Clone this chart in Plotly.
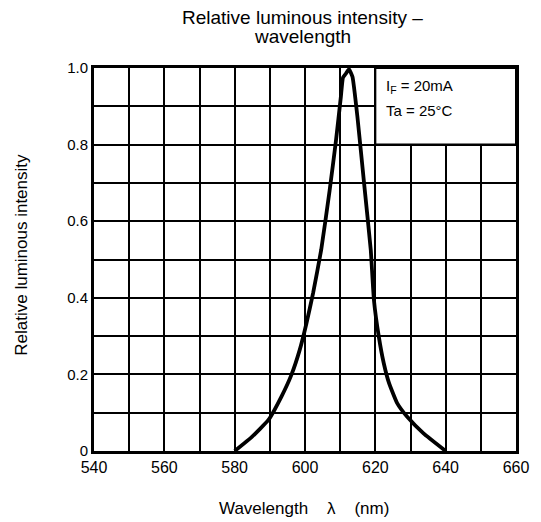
import plotly.graph_objects as go

wavelength = [580.0, 584.9, 589.6, 593.3, 596.1, 598.5, 600.4, 602.3, 604.6, 607.0, 608.8, 610.2,
              610.8, 611.6, 612.5, 613.5, 614.9, 616.8, 618.7, 619.6, 621.0, 622.4, 623.9, 626.2,
              629.0, 633.7, 640.0]
intensity = [0.0, 0.037, 0.081, 0.142, 0.198, 0.264, 0.333, 0.412, 0.525, 0.68, 0.81, 0.925,
             0.975, 0.985, 0.997, 0.977, 0.873, 0.699, 0.525, 0.394, 0.298, 0.229, 0.177, 0.125,
             0.090, 0.046, 0.0]

x_ticks = [540, 560, 580, 600, 620, 640, 660]
y_ticks = [0, 0.2, 0.4, 0.6, 0.8, 1.0]
y_tick_text = ["0", "0.2", "0.4", "0.6", "0.8", "1.0"]

font = "Liberation Sans, Arial, sans-serif"

fig = go.Figure()
fig.add_trace(go.Scatter(x=wavelength, y=intensity, mode="lines",
                         line=dict(color="black", width=3.8, shape="spline", smoothing=0.4),
                         showlegend=False, hoverinfo="skip"))

fig.add_shape(type="rect", xref="x", yref="y", x0=620, x1=660, y0=0.8, y1=1.0,
              fillcolor="white", line=dict(color="black", width=2), layer="above")

fig.add_annotation(x=622.4, y=0.953, xref="x", yref="y", text="I<sub>F</sub> = 20mA",
                   showarrow=False, xanchor="left", yanchor="middle",
                   font=dict(family=font, size=15, color="black"))
fig.add_annotation(x=622.4, y=0.888, xref="x", yref="y", text="Ta = 25°C",
                   showarrow=False, xanchor="left", yanchor="middle",
                   font=dict(family=font, size=15, color="black"))

# title (two lines, tight spacing)
fig.add_annotation(x=0.495, y=1.132, xref="paper", yref="paper", text="Relative luminous intensity –",
                   showarrow=False, xanchor="center", yanchor="middle",
                   font=dict(family=font, size=19, color="black"))
fig.add_annotation(x=0.495, y=1.083, xref="paper", yref="paper", text="wavelength",
                   showarrow=False, xanchor="center", yanchor="middle",
                   font=dict(family=font, size=19, color="black"))
# axis titles
fig.add_annotation(x=0.498, y=-0.151, xref="paper", yref="paper", text="Wavelength    λ    (nm)",
                   showarrow=False, xanchor="center", yanchor="middle",
                   font=dict(family=font, size=17, color="black"))
fig.add_annotation(x=-0.171, y=0.512, xref="paper", yref="paper", text="Relative luminous intensity",
                   showarrow=False, xanchor="center", yanchor="middle", textangle=-90,
                   font=dict(family=font, size=17, color="black"))

fig.update_layout(
    width=533, height=514,
    margin=dict(l=86, r=20, t=60, b=71),
    paper_bgcolor="white", plot_bgcolor="white",
    font=dict(family=font, size=15, color="black"),
)
fig.update_xaxes(range=[540, 660], tickvals=x_ticks, showgrid=True, gridcolor="black", gridwidth=2,
                 minor=dict(dtick=10, tick0=540, showgrid=True, gridcolor="black", gridwidth=2),
                 showline=True, linecolor="black", linewidth=3, mirror=True,
                 ticks="", ticklen=0, zeroline=False,
                 tickfont=dict(family=font, size=16))
fig.update_yaxes(range=[0, 1.0], tickvals=y_ticks, ticktext=y_tick_text,
                 showgrid=True, gridcolor="black", gridwidth=1.8,
                 minor=dict(dtick=0.1, tick0=0, showgrid=True, gridcolor="black", gridwidth=1.8),
                 showline=True, linecolor="black", linewidth=3, mirror=True,
                 ticks="", ticklen=0, zeroline=False,
                 tickfont=dict(family=font, size=15))

fig.write_html("out.html")
